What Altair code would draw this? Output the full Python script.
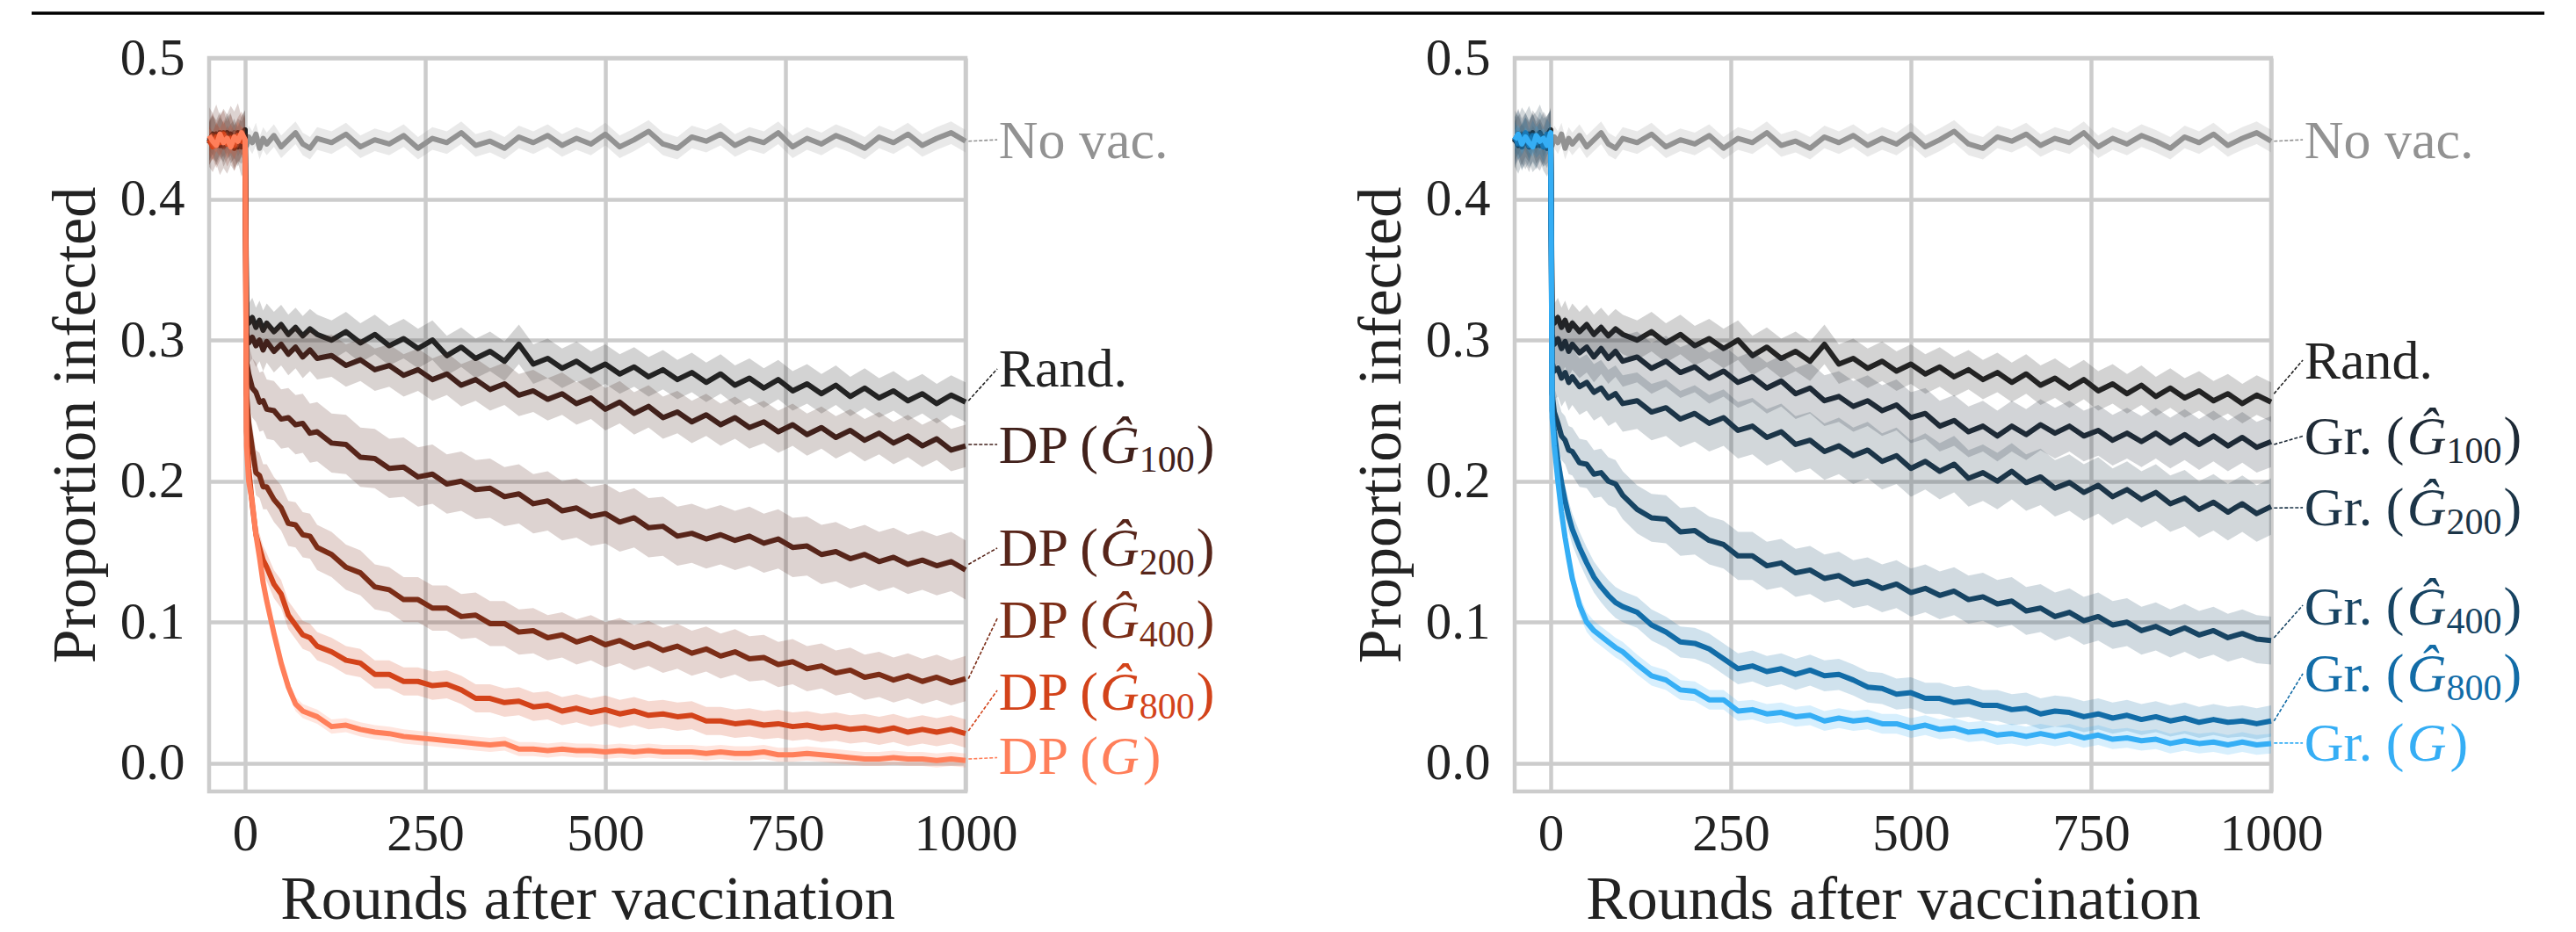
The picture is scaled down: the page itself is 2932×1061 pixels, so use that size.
import altair as alt
import pandas as pd

# ---------------- data ----------------
ROUNDS = [-50, -45, -40, -35, -30, -25, -20, -15, -10, -5, 0,
          2, 5, 10, 15, 20, 25, 30, 40, 50, 60, 70, 80, 90, 100,
          120, 140, 160, 180, 200, 220, 240, 260, 280, 300, 320, 340, 360, 380, 400,
          420, 440, 460, 480, 500, 520, 540, 560, 580, 600, 620, 640, 660, 680, 700,
          720, 740, 760, 780, 800, 820, 840, 860, 880, 900, 920, 940, 960, 980, 1000]

NOVAC = [0.443, 0.439, 0.446, 0.441, 0.437, 0.444, 0.440, 0.447, 0.438, 0.443, 0.441,
         0.438, 0.444, 0.440, 0.446, 0.436, 0.443, 0.439, 0.445, 0.437, 0.442, 0.447, 0.439, 0.436, 0.443,
         0.440, 0.446, 0.437, 0.442, 0.439, 0.445, 0.436, 0.443, 0.440, 0.447, 0.438, 0.441, 0.436, 0.444, 0.440,
         0.445, 0.438, 0.443, 0.439, 0.446, 0.437, 0.442, 0.448, 0.439, 0.436, 0.444, 0.441, 0.446, 0.438, 0.443,
         0.440, 0.447, 0.437, 0.443, 0.439, 0.445, 0.441, 0.436, 0.444, 0.440, 0.446, 0.438, 0.443, 0.447, 0.441]

RAND = [0.441, 0.446, 0.438, 0.444, 0.440, 0.447, 0.439, 0.443, 0.437, 0.445, 0.449,
        0.318, 0.312, 0.316, 0.309, 0.314, 0.307, 0.312, 0.306, 0.311, 0.304, 0.309, 0.303, 0.308, 0.304,
        0.300, 0.306, 0.298, 0.304, 0.296, 0.301, 0.294, 0.300, 0.289, 0.295, 0.287, 0.292, 0.285, 0.297, 0.283,
        0.287, 0.280, 0.285, 0.278, 0.283, 0.276, 0.281, 0.274, 0.279, 0.272, 0.277, 0.270, 0.276, 0.268, 0.273,
        0.266, 0.272, 0.264, 0.269, 0.262, 0.268, 0.260, 0.266, 0.259, 0.264, 0.257, 0.262, 0.255, 0.261, 0.256]

DP100 = [0.439, 0.444, 0.441, 0.447, 0.438, 0.443, 0.446, 0.437, 0.442, 0.440, 0.445,
         0.305, 0.298, 0.302, 0.296, 0.300, 0.293, 0.299, 0.292, 0.297, 0.290, 0.295, 0.288, 0.293, 0.287,
         0.289, 0.282, 0.286, 0.279, 0.282, 0.275, 0.279, 0.272, 0.276, 0.268, 0.272, 0.265, 0.269, 0.261, 0.264,
         0.258, 0.262, 0.255, 0.259, 0.251, 0.256, 0.248, 0.253, 0.245, 0.249, 0.242, 0.247, 0.240, 0.245, 0.238,
         0.242, 0.235, 0.240, 0.233, 0.238, 0.231, 0.236, 0.229, 0.234, 0.227, 0.232, 0.225, 0.230, 0.222, 0.225]

DP200 = [0.444, 0.440, 0.446, 0.438, 0.443, 0.439, 0.445, 0.441, 0.447, 0.437, 0.442,
         0.285, 0.276, 0.266, 0.263, 0.256, 0.257, 0.251, 0.250, 0.244, 0.245, 0.240, 0.241, 0.234, 0.235,
         0.227, 0.226, 0.217, 0.216, 0.209, 0.210, 0.203, 0.205, 0.198, 0.200, 0.194, 0.195, 0.189, 0.191, 0.184,
         0.186, 0.179, 0.181, 0.175, 0.177, 0.171, 0.174, 0.167, 0.168, 0.161, 0.163, 0.159, 0.162, 0.158, 0.161,
         0.156, 0.159, 0.153, 0.154, 0.148, 0.150, 0.145, 0.148, 0.143, 0.146, 0.141, 0.144, 0.140, 0.143, 0.137]

DP400 = [0.440, 0.445, 0.438, 0.443, 0.447, 0.439, 0.444, 0.436, 0.442, 0.446, 0.441,
         0.262, 0.241, 0.223, 0.206, 0.204, 0.196, 0.196, 0.187, 0.181, 0.170, 0.169, 0.162, 0.161, 0.153,
         0.148, 0.139, 0.135, 0.125, 0.123, 0.116, 0.116, 0.110, 0.110, 0.104, 0.105, 0.099, 0.099, 0.093, 0.094,
         0.089, 0.091, 0.086, 0.089, 0.084, 0.087, 0.082, 0.085, 0.080, 0.083, 0.078, 0.081, 0.076, 0.079, 0.074,
         0.075, 0.070, 0.072, 0.067, 0.069, 0.064, 0.066, 0.061, 0.063, 0.059, 0.062, 0.058, 0.061, 0.057, 0.060]

DP800 = [0.442, 0.437, 0.444, 0.440, 0.446, 0.439, 0.443, 0.438, 0.445, 0.441, 0.440,
         0.235, 0.209, 0.183, 0.162, 0.153, 0.144, 0.139, 0.127, 0.120, 0.105, 0.098, 0.091, 0.089, 0.083,
         0.079, 0.073, 0.071, 0.063, 0.063, 0.058, 0.058, 0.055, 0.056, 0.052, 0.046, 0.046, 0.043, 0.044, 0.040,
         0.041, 0.037, 0.039, 0.036, 0.038, 0.035, 0.037, 0.034, 0.035, 0.033, 0.034, 0.030, 0.030, 0.028, 0.029,
         0.027, 0.028, 0.026, 0.027, 0.025, 0.026, 0.024, 0.025, 0.023, 0.025, 0.022, 0.024, 0.022, 0.024, 0.021]

DPG = [0.445, 0.441, 0.438, 0.446, 0.440, 0.443, 0.437, 0.444, 0.441, 0.447, 0.442,
       0.225, 0.200, 0.185, 0.162, 0.146, 0.128, 0.115, 0.092, 0.071, 0.054, 0.042, 0.037, 0.035, 0.033,
       0.026, 0.027, 0.024, 0.022, 0.021, 0.019, 0.018, 0.017, 0.016, 0.015, 0.014, 0.013, 0.014, 0.010, 0.010,
       0.009, 0.010, 0.009, 0.009, 0.008, 0.009, 0.008, 0.009, 0.008, 0.008, 0.008, 0.007, 0.008, 0.007, 0.007,
       0.008, 0.006, 0.006, 0.007, 0.006, 0.005, 0.004, 0.003, 0.003, 0.004, 0.003, 0.003, 0.002, 0.003, 0.002]

GR100 = [0.440, 0.446, 0.439, 0.443, 0.437, 0.445, 0.441, 0.438, 0.444, 0.440, 0.447,
         0.304, 0.297, 0.301, 0.294, 0.299, 0.292, 0.297, 0.291, 0.295, 0.288, 0.294, 0.287, 0.292, 0.285,
         0.288, 0.280, 0.285, 0.277, 0.281, 0.273, 0.278, 0.270, 0.274, 0.266, 0.271, 0.262, 0.266, 0.257, 0.260,
         0.253, 0.257, 0.250, 0.254, 0.245, 0.248, 0.239, 0.243, 0.235, 0.239, 0.232, 0.239, 0.233, 0.240, 0.234,
         0.239, 0.232, 0.236, 0.229, 0.234, 0.228, 0.234, 0.227, 0.233, 0.226, 0.232, 0.225, 0.231, 0.224, 0.228]

GR200 = [0.443, 0.438, 0.445, 0.441, 0.446, 0.439, 0.442, 0.447, 0.440, 0.436, 0.444,
         0.284, 0.278, 0.280, 0.273, 0.277, 0.270, 0.274, 0.267, 0.270, 0.263, 0.266, 0.259, 0.262, 0.255,
         0.257, 0.249, 0.252, 0.244, 0.248, 0.241, 0.245, 0.236, 0.239, 0.231, 0.235, 0.226, 0.229, 0.221, 0.225,
         0.218, 0.222, 0.214, 0.218, 0.209, 0.214, 0.207, 0.212, 0.202, 0.206, 0.200, 0.207, 0.199, 0.203, 0.195,
         0.199, 0.192, 0.197, 0.189, 0.194, 0.187, 0.192, 0.184, 0.188, 0.180, 0.185, 0.178, 0.184, 0.177, 0.182]

GR400 = [0.441, 0.446, 0.437, 0.444, 0.439, 0.443, 0.438, 0.445, 0.440, 0.442, 0.446,
         0.262, 0.249, 0.241, 0.232, 0.229, 0.222, 0.221, 0.213, 0.212, 0.205, 0.206, 0.200, 0.198, 0.190,
         0.180, 0.174, 0.173, 0.164, 0.165, 0.158, 0.155, 0.147, 0.147, 0.140, 0.142, 0.135, 0.137, 0.131, 0.133,
         0.127, 0.129, 0.124, 0.127, 0.121, 0.124, 0.119, 0.122, 0.116, 0.118, 0.113, 0.115, 0.108, 0.110, 0.104,
         0.107, 0.101, 0.104, 0.098, 0.100, 0.094, 0.097, 0.092, 0.096, 0.091, 0.094, 0.089, 0.092, 0.088, 0.087]

GR800 = [0.444, 0.439, 0.442, 0.447, 0.438, 0.445, 0.440, 0.443, 0.437, 0.446, 0.441,
         0.250, 0.235, 0.215, 0.199, 0.186, 0.175, 0.166, 0.153, 0.142, 0.132, 0.125, 0.119, 0.114, 0.111,
         0.107, 0.098, 0.093, 0.086, 0.085, 0.081, 0.074, 0.067, 0.069, 0.065, 0.067, 0.063, 0.066, 0.062, 0.063,
         0.059, 0.054, 0.053, 0.049, 0.050, 0.046, 0.046, 0.043, 0.044, 0.041, 0.041, 0.038, 0.039, 0.035, 0.037,
         0.036, 0.033, 0.035, 0.032, 0.034, 0.031, 0.033, 0.030, 0.032, 0.029, 0.031, 0.029, 0.030, 0.028, 0.030]

GRG = [0.442, 0.446, 0.439, 0.444, 0.440, 0.437, 0.445, 0.441, 0.443, 0.438, 0.447,
       0.245, 0.225, 0.200, 0.178, 0.160, 0.145, 0.131, 0.112, 0.100, 0.094, 0.090, 0.086, 0.082, 0.079,
       0.070, 0.062, 0.059, 0.052, 0.051, 0.045, 0.045, 0.037, 0.038, 0.035, 0.036, 0.033, 0.034, 0.030, 0.032,
       0.030, 0.031, 0.028, 0.028, 0.025, 0.027, 0.024, 0.025, 0.022, 0.023, 0.020, 0.021, 0.019, 0.021, 0.019,
       0.021, 0.018, 0.020, 0.017, 0.018, 0.016, 0.017, 0.014, 0.016, 0.014, 0.015, 0.013, 0.015, 0.013, 0.014]

for arr in [NOVAC, RAND, DP100, DP200, DP400, DP800, DPG, GR100, GR200, GR400, GR800, GRG]:
    assert len(arr) == len(ROUNDS)

# band half-widths (confidence band around each mean curve)
BAND = {"novac": 0.008, "rand": 0.014, "dp100": 0.015, "dp200": 0.021, "dp400": 0.016,
        "dp800": 0.010, "dpg": 0.005, "gr100": 0.018, "gr200": 0.020, "gr400": 0.017,
        "gr800": 0.011, "grg": 0.007}

COL = {"novac": "#929292", "rand": "#232323", "dp100": "#41211b", "dp200": "#57251a",
       "dp400": "#7b2d17", "dp800": "#d3431a", "dpg": "#ff7f5a", "gr100": "#1e2a36",
       "gr200": "#1c3548", "gr400": "#174463", "gr800": "#126ca7", "grg": "#35aef5"}

LEFT_SERIES = [("novac", NOVAC), ("rand", RAND), ("dp100", DP100), ("dp200", DP200),
               ("dp400", DP400), ("dp800", DP800), ("dpg", DPG)]
RIGHT_SERIES = [("novac", NOVAC), ("rand", RAND), ("gr100", GR100), ("gr200", GR200),
                ("gr400", GR400), ("gr800", GR800), ("grg", GRG)]

# end labels: key, prefix, G glyph, subscript, text baseline, connector start, connector end
LEFT_LABELS = [("novac", "No vac.", "", "", 0.429, 0.441, 0.442),
               ("rand", "Rand.", "", "", 0.2671, 0.257, 0.2796),
               ("dp100", "DP (", "Ĝ", "100", 0.2130, 0.226, 0.226),
               ("dp200", "DP (", "Ĝ", "200", 0.1401, 0.141, 0.1526),
               ("dp400", "DP (", "Ĝ", "400", 0.0890, 0.060, 0.1027),
               ("dp800", "DP (", "Ĝ", "800", 0.0382, 0.023, 0.0517),
               ("dpg", "DP (", "G", "", -0.0078, 0.003, 0.004)]
RIGHT_LABELS = [("novac", "No vac.", "", "", 0.429, 0.441, 0.442),
                ("rand", "Rand.", "", "", 0.2724, 0.262, 0.2858),
                ("gr100", "Gr. (", "Ĝ", "100", 0.2192, 0.226, 0.2319),
                ("gr200", "Gr. (", "Ĝ", "200", 0.1685, 0.181, 0.1812),
                ("gr400", "Gr. (", "Ĝ", "400", 0.0986, 0.089, 0.112),
                ("gr800", "Gr. (", "Ĝ", "800", 0.0511, 0.030, 0.0635),
                ("grg", "Gr. (", "G", "", 0.0019, 0.0143, 0.0143)]

X_TICKS = [0, 250, 500, 750, 1000]
Y_TICKS = [0.0, 0.1, 0.2, 0.3, 0.4, 0.5]
X_TITLE = "Rounds after vaccination"
Y_TITLE = "Proportion infected"

# ---------------- styling ----------------
FONT = "Liberation Serif"
LBL_FS = 62
SUB_FS = 42
W, H = 861, 835
XS = alt.Scale(domain=[-50, 1000], nice=False, zero=False)
YS = alt.Scale(domain=[-0.02, 0.5], nice=False, zero=False)
XAX = alt.Axis(values=X_TICKS, format="d", title=X_TITLE, labelPadding=19, titlePadding=11,
               labelFlush=False)
YAX = alt.Axis(values=Y_TICKS, format=".1f", title=Y_TITLE, labelPadding=28, titlePadding=14,
               labelFlush=False)
LABEL_X = 1046


def X(field):
    return alt.X(field, type="quantitative", scale=XS, axis=XAX)


def Y(field):
    return alt.Y(field, type="quantitative", scale=YS, axis=YAX)


def panel(series, labels, prefix_w, with_rule):
    layers = []
    for key, vals in series:
        hw = BAND[key]
        df = pd.DataFrame({"round": ROUNDS, "value": vals})
        df["lo"] = df["value"] - hw
        df["hi"] = df["value"] + hw
        band = alt.Chart(df).mark_area(color=COL[key], opacity=0.2).encode(
            x=X("round"), y=Y("lo"), y2="hi:Q")
        line = alt.Chart(df).mark_line(color=COL[key], strokeWidth=6, strokeJoin="round").encode(
            x=X("round"), y=Y("value"))
        layers += [band, line]

    ldf = pd.DataFrame([
        {"key": k, "pre": p, "g": g, "sub": s, "ly": b, "c0": c0, "c1": c1,
         "lx": LABEL_X, "x0": 1004, "x1": 1044, "color": COL[k],
         "closeA": ")" if s else "", "closeB": ")" if (g and not s) else ""}
        for (k, p, g, s, b, c0, c1) in labels])

    conn = alt.Chart(ldf).mark_rule(strokeWidth=1.6, strokeDash=[4, 2]).encode(
        x=X("x0"), x2="x1:Q", y=Y("c0"), y2="c1:Q",
        color=alt.Color("color:N", scale=None))
    layers.append(conn)

    def txt(field, dx, dy, fs, style="normal"):
        return alt.Chart(ldf).mark_text(align="left", baseline="alphabetic", dx=dx, dy=dy, font=FONT,
                                        fontSize=fs, fontStyle=style).encode(
            x=X("lx"), y=Y("ly"),
            text=alt.Text(f"{field}:N"), color=alt.Color("color:N", scale=None))

    gw = 0.722 * LBL_FS
    layers.append(txt("pre", 0, 0, LBL_FS))
    layers.append(txt("g", prefix_w, 0, LBL_FS, "italic"))
    layers.append(txt("sub", prefix_w + gw, 10, SUB_FS))
    layers.append(txt("closeA", prefix_w + gw + 1.5 * SUB_FS + 2, 0, LBL_FS))
    layers.append(txt("closeB", prefix_w + gw + 4, 0, LBL_FS))

    if with_rule:
        rule = alt.Chart(pd.DataFrame({"a": [0]})).mark_rule(color="black", strokeWidth=3.5).encode(
            x=alt.value(-202), x2=alt.value(2658), y=alt.value(-51))
        layers.append(rule)

    return alt.layer(*layers).properties(width=W, height=H)


left = panel(LEFT_SERIES, LEFT_LABELS, 1.861 * LBL_FS, True)
right = panel(RIGHT_SERIES, RIGHT_LABELS, 1.888 * LBL_FS, False)

chart = alt.hconcat(left, right, spacing=625, bounds="flush").properties(
    padding={"left": 24, "top": 3, "right": 10, "bottom": 8}
).configure_view(
    stroke="#cccccc", strokeWidth=4.5
).configure_axis(
    labelFont=FONT, labelFontSize=59, labelColor="#222222",
    titleFont=FONT, titleFontSize=70, titleFontWeight="normal", titleColor="#222222",
    grid=True, gridColor="#cccccc", gridWidth=4.5, domain=False, ticks=False, tickSize=0
)

chart.save("out.html", embed_options={"renderer": "svg", "actions": False})
